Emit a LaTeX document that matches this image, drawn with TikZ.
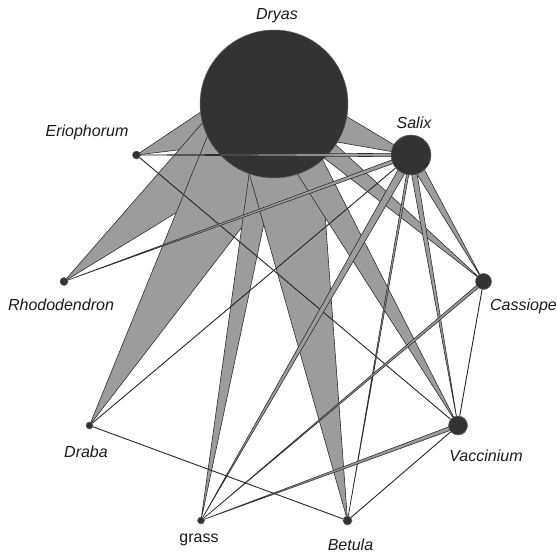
\documentclass[tikz,border=0pt]{standalone}
\usepackage{fontspec}
\setmainfont{Liberation Sans}
\usetikzlibrary{calc}
\pgfdeclarelayer{wedgesD}
\pgfdeclarelayer{dryaslayer}
\pgfdeclarelayer{wedgesO}
\pgfsetlayers{wedgesD,dryaslayer,wedgesO,main}
\definecolor{wedgegray}{HTML}{9C9C9C}
\definecolor{edgedark}{HTML}{2E2E2E}
\definecolor{nodedark}{HTML}{333333}
\definecolor{txt}{HTML}{1A1A1A}
\newcommand{\wdg}[3]{\draw[wedge] ($(#1.center)!#3!90:(#2.center)$) -- ($(#1.center)!#3!-90:(#2.center)$) -- (#2.center) -- cycle;}
\begin{document}
\begin{tikzpicture}[x=1pt,y=-1pt,
  wedge/.style={fill=wedgegray,draw=edgedark,line width=0.6pt,line join=round},
  plainedge/.style={draw=black!85,line width=0.9pt},
  plant/.style={circle,fill=nodedark,draw=black!60,line width=0.5pt,inner sep=0pt},
  lbl/.style={font=\fontsize{16}{18}\selectfont\itshape,text=txt,inner sep=0pt},
  lblu/.style={font=\fontsize{16}{18}\selectfont,text=txt,inner sep=0pt}]
\useasboundingbox (0,0) rectangle (557,556);
% nodes
\begin{pgfonlayer}{dryaslayer}
\node[plant,minimum size=148pt] (Dryas) at (274,104) {};
\end{pgfonlayer}
\node[plant,minimum size=40pt] (Salix) at (411,155) {};
\node[plant,minimum size=16pt] (Cassiope) at (483.5,281.5) {};
\node[plant,minimum size=19pt] (Vaccinium) at (458,425.5) {};
\node[plant,minimum size=9pt] (Betula) at (347.5,520.5) {};
\node[plant,minimum size=7pt] (grass) at (201,520.5) {};
\node[plant,minimum size=7pt] (Draba) at (89.5,425.5) {};
\node[plant,minimum size=8pt] (Rhododendron) at (64,281.5) {};
\node[plant,minimum size=8pt] (Eriophorum) at (136.5,155) {};
% labels
\node[lbl] (lDryas) at (277,16) {Dryas};
\node[lbl] (lSalix) at (414,123) {Salix};
\node[lbl] (lEriophorum) at (87,132) {Eriophorum};
\node[lbl] (lRhododendron) at (61,305) {Rhododendron};
\node[lbl] (lCassiope) at (523.5,306) {Cassiope};
\node[lbl] (lDraba) at (86,452) {Draba};
\node[lbl] (lVaccinium) at (486,456) {Vaccinium};
\node[lblu] (lgrass) at (199,540) {grass};
\node[lbl] (lBetula) at (350.5,545) {Betula};
% Dryas wedges
\begin{pgfonlayer}{wedgesD}
\wdg{Dryas}{Eriophorum}{35pt}
\wdg{Dryas}{Rhododendron}{42pt}
\wdg{Dryas}{Draba}{50pt}
\wdg{Dryas}{grass}{15pt}
\wdg{Dryas}{Betula}{43pt}
\wdg{Dryas}{Vaccinium}{18pt}
\wdg{Dryas}{Cassiope}{12pt}
\wdg{Dryas}{Salix}{27pt}
\end{pgfonlayer}
% other edges
\begin{pgfonlayer}{wedgesO}
\draw[plainedge] (Eriophorum) -- (Vaccinium);
\draw[plainedge] (Draba) -- (Betula);
\draw[plainedge] (Betula) -- (Vaccinium);
\draw[plainedge] (Cassiope) -- (Vaccinium);
\draw[plainedge] (Salix) -- (Draba);
\wdg{Salix}{Eriophorum}{1.8pt}
\wdg{Salix}{Rhododendron}{2pt}
\wdg{Salix}{grass}{4pt}
\wdg{Salix}{Betula}{1.2pt}
\wdg{Salix}{Vaccinium}{3pt}
\wdg{Salix}{Cassiope}{5pt}
\wdg{Cassiope}{grass}{1.5pt}
\wdg{Vaccinium}{grass}{2pt}
\end{pgfonlayer}
\end{tikzpicture}
\end{document}
